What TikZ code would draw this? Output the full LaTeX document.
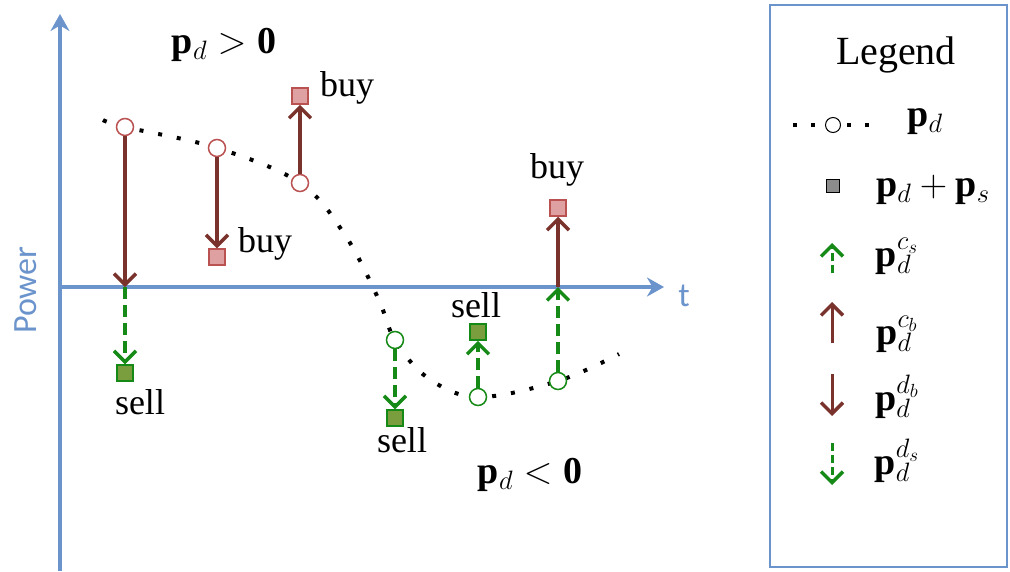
\RequirePackage{fix-cm}
\documentclass[tikz,border=0pt]{standalone}
\usepackage{fontspec}
\setmainfont{Liberation Serif}
\newfontfamily\axisfont{Carlito}
\usetikzlibrary{arrows.meta}

\definecolor{axisblue}{RGB}{108,148,204}
\definecolor{buyred}{RGB}{122,50,44}
\definecolor{buyfill}{RGB}{222,160,160}
\definecolor{buyedge}{RGB}{186,82,82}
\definecolor{sellgreen}{RGB}{22,138,22}
\definecolor{sellfill}{RGB}{122,158,62}

\tikzset{
  axis/.style={axisblue, line width=4},
  pdot/.style={circle, draw=#1, fill=white, line width=1.5, minimum size=17, inner sep=0},
  buysq/.style={rectangle, draw=buyedge, fill=buyfill, line width=1.5, minimum size=16, inner sep=0},
  sellsq/.style={rectangle, draw=sellgreen, fill=sellfill, line width=1.5, minimum size=16, inner sep=0},
  buyarr/.style={draw=buyred, line width=3.5, -{Straight Barb[length=11,width=22,line width=3.5]}},
  sellarr/.style={draw=sellgreen, line width=3.5, dash pattern=on 12 off 6, -{Straight Barb[length=11,width=22,line width=3.5]}},
  dotline/.style={line width=4, dash pattern=on 4 off 15},
  lbl/.style={font=\fontsize{36}{40}\selectfont, inner sep=0},
  mlbl/.style={font=\fontsize{38}{44}\selectfont, inner sep=0}
}

\begin{document}
\begin{tikzpicture}[x=1pt, y=-1pt]
\useasboundingbox (0,0) rectangle (1010,571);

% axes
\draw[axis, -{Stealth[length=17,width=19]}] (60,571) -- (60,14);
\draw[axis, {Bar[width=42,line width=4]}-{Stealth[length=17,width=19]}] (58,287) -- (664,287);
\node[text=axisblue, font=\axisfont\fontsize{34}{36}\selectfont, rotate=90] (power) at (26,290) {Power};
\node[text=axisblue, font=\axisfont\fontsize{34}{36}\selectfont] (tlab) at (684,296) {t};

% points on the demand curve
\coordinate (p1) at (125,127);
\coordinate (p2) at (217,148);
\coordinate (p3) at (300,183);
\coordinate (q1) at (395,340);
\coordinate (q2) at (478,397);
\coordinate (q3) at (558,381);

\draw[dotline] plot[smooth, tension=0.6] coordinates {(103,120) (p1) (p2) (p3) (345,235) (378,298) (q1) (428,378) (q2) (q3) (619,354)};

\node[pdot=buyedge] (c1) at (p1) {};
\node[pdot=buyedge] (c2) at (p2) {};
\node[pdot=buyedge] (c3) at (p3) {};
\node[pdot=sellgreen] (g1) at (q1) {};
\node[pdot=sellgreen] (g2) at (q2) {};
\node[pdot=sellgreen] (g3) at (q3) {};

% net power
\node[buysq] (b2) at (217,257) {};
\node[buysq] (b3) at (300,96) {};
\node[buysq] (b4) at (558,208) {};
\node[sellsq] (s1) at (125,373) {};
\node[sellsq] (s2) at (395,418) {};
\node[sellsq] (s3) at (478,332) {};
\coordinate (x1) at (125,287);
\coordinate (x4) at (558,287);

\draw[buyarr] (c1) -- (x1);
\draw[sellarr] (x1) -- (s1);
\draw[buyarr] (c2) -- (b2);
\draw[buyarr] (c3) -- (b3);
\draw[sellarr] (g1) -- (s2);
\draw[sellarr] (g2) -- (s3);
\draw[sellarr] (g3) -- (x4);
\draw[buyarr] (x4) -- (b4);

\node[lbl, anchor=west] (t2) at (238,244) {buy};
\node[lbl, anchor=west] (t3) at (320,88) {buy};
\node[lbl] (t4) at (557,170) {buy};
\node[lbl] (t5) at (140,402) {sell};
\node[lbl] (t6) at (402,440) {sell};
\node[lbl] (t7) at (476,305) {sell};

\node[mlbl] (pos) at (224,45) {$\mathbf{p}_d > \mathbf{0}$};
\node[mlbl] (neg) at (530,475) {$\mathbf{p}_d < \mathbf{0}$};

% legend
\draw[axisblue, line width=1.2] (770,5) rectangle (1007,567);
\node[font=\fontsize{40}{44}\selectfont] (leg) at (896,55) {Legend};
\coordinate (la) at (793,125);
\coordinate (lb) at (873,125);
\draw[dotline, dash pattern=on 4 off 14] (la) -- (lb);
\node[pdot=black, line width=1, minimum size=15] (lc) at (833,125) {};
\node[mlbl] at (925,122) {$\mathbf{p}_d$};
\node[rectangle, draw=black, fill=black!45, line width=1, minimum size=13] (ls) at (833,186) {};
\node[mlbl] at (933,190) {$\mathbf{p}_d + \mathbf{p}_s$};
\coordinate (l1a) at (832,273);
\coordinate (l1b) at (832,243);
\draw[sellarr, line width=3, dash pattern=on 8 off 4] (l1a) -- (l1b);
\node[mlbl] at (897,256) {$\mathbf{p}_d^{c_s}$};
\coordinate (l2a) at (832,343);
\coordinate (l2b) at (832,302);
\draw[buyarr, line width=3] (l2a) -- (l2b);
\node[mlbl] at (897,334) {$\mathbf{p}_d^{c_b}$};
\coordinate (l3a) at (832,374);
\coordinate (l3b) at (832,416);
\draw[buyarr, line width=3] (l3a) -- (l3b);
\node[mlbl] at (897,397) {$\mathbf{p}_d^{d_b}$};
\coordinate (l4a) at (832,443);
\coordinate (l4b) at (832,485);
\draw[sellarr, line width=3, dash pattern=on 8 off 4] (l4a) -- (l4b);
\node[mlbl] at (897,461) {$\mathbf{p}_d^{d_s}$};
\end{tikzpicture}
\end{document}
